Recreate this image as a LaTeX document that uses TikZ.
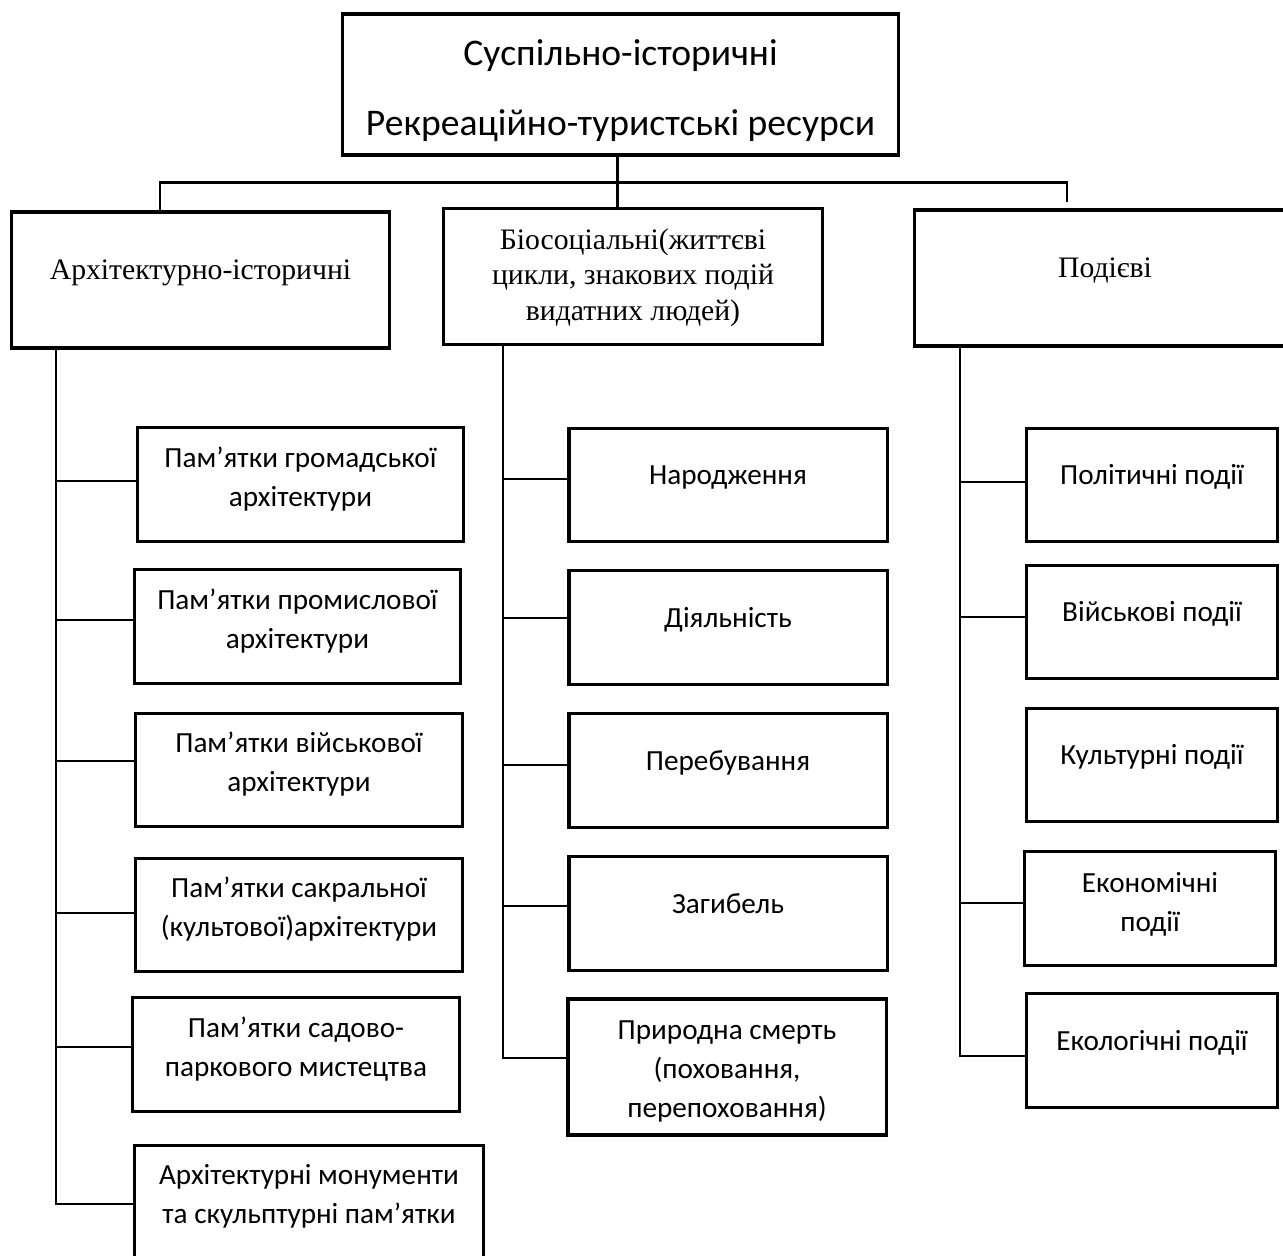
\documentclass[tikz,border=0pt]{standalone}
\usepackage{fontspec}
\setmainfont{Carlito}
\newfontfamily\serifbox{Liberation Serif}

\begin{document}
\begin{tikzpicture}[x=0.01cm,y=-0.01cm,
	box/.style={draw,line width=0.9pt,align=center,inner sep=0pt},
	head/.style={box,font=\fontsize{10.7}{20}\selectfont,minimum width=5.55cm,minimum height=1.41cm,text depth=0pt,text height=29.2pt},
	group/.style={box,font=\serifbox\fontsize{8.45}{10.1}\selectfont,minimum width=3.78cm,minimum height=1.36cm,text depth=5.8pt},
	leaf/.style={box,font=\fontsize{8.3}{11.1}\selectfont,minimum height=1.135cm,text depth=6.5pt},
	link/.style={line width=0.65pt}]
\useasboundingbox (0,0) rectangle (1283,1255);
\clip (0,0) rectangle (1283,1255);
%top
\node[head] (root) at (620.5,84.5) {Суспільно-історичні\\Рекреаційно-туристські ресурси};
%groups
\node[group] (arch) at (200.5,280) {Архітектурно-історичні};
\node[group,text depth=1.2pt] (bio) at (633,276.5) {Біосоціальні(життєві\\цикли, знакових подій\\видатних людей)};
\node[group,minimum width=3.8cm] (event) at (1105,278) {Подієві};
%left column
\foreach \n/\x/\y/\w/\txt in {l1/300.5/484.5/3.25/{Пам’ятки громадської\\архітектури},
	l2/297.5/626.5/3.25/{Пам’ятки промислової\\архітектури},
	l3/299/770/3.26/{Пам’ятки військової\\архітектури},
	l4/299/915/3.26/{Пам’ятки сакральної\\(культової)архітектури},
	l5/296/1054.5/3.26/{Пам’ятки садово-\\паркового мистецтва},
	l6/309/1202/3.48/{Архітектурні монументи\\та скульптурні пам’ятки}} {
	\node[leaf,minimum width=\w cm,text depth=4.6pt] (\n) at (\x,\y) {\txt}; }
%middle column
\foreach \n/\y/\txt in {m1/485/Народження,m2/627.5/Діяльність,m3/770.5/Перебування,m4/913.5/Загибель} {
	\node[leaf,minimum width=3.18cm,text depth=5.6pt] (\n) at (728,\y) {\txt}; }
\node[leaf,minimum width=3.18cm,minimum height=1.36cm,text depth=1.7pt,text height=30.5pt] (m5) at (727,1067) {Природна смерть\\(поховання,\\перепоховання)};
%right column
\foreach \n/\y/\txt in {r1/485/Політичні події,r2/622/Військові події,r3/765/Культурні події,r5/1050.5/Екологічні події} {
	\node[leaf,minimum width=2.51cm,text depth=5.8pt] (\n) at (1152,\y) {\txt}; }
\node[leaf,minimum width=2.51cm,text depth=3.6pt] (r4) at (1150,908.5) {Економічні\\події};
%top links
\path (root.south) ++(-3,26) coordinate (hub);
\path (arch.north west) ++(150,0) coordinate (ha);
\path (event.north west) ++(154,-6) coordinate (he);
\draw[link] (root.south -| hub) -- (hub |- bio.north);
\draw[link] (ha) |- (hub) -| (he);
%trunks
\path (arch.south west) ++(46,0) coordinate (ta);
\path (bio.south west) ++(61,0) coordinate (tb);
\path (event.south west) ++(47,0) coordinate (te);
\draw[link] (ta) |- ([yshift=-0.6pt]l6.west);
\draw[link] (tb) |- ([yshift=2.6pt]m5.west);
\draw[link] (te) |- ([yshift=-1.6pt]r5.west);
%branches
\foreach \n/\s/\t in {l1/1/ta,l2/1.8/ta,l3/2.6/ta,l4/0.6/ta,l5/2.1/ta,m1/1.7/tb,m2/2.7/tb,m3/1.6/tb,m4/2.1/tb,r1/0.9/te,r2/1.4/te,r4/1.6/te} {
	\draw[link] ([yshift=\s pt]\n.west) coordinate (c) -- (c -| \t); }
\end{tikzpicture}
\end{document}
